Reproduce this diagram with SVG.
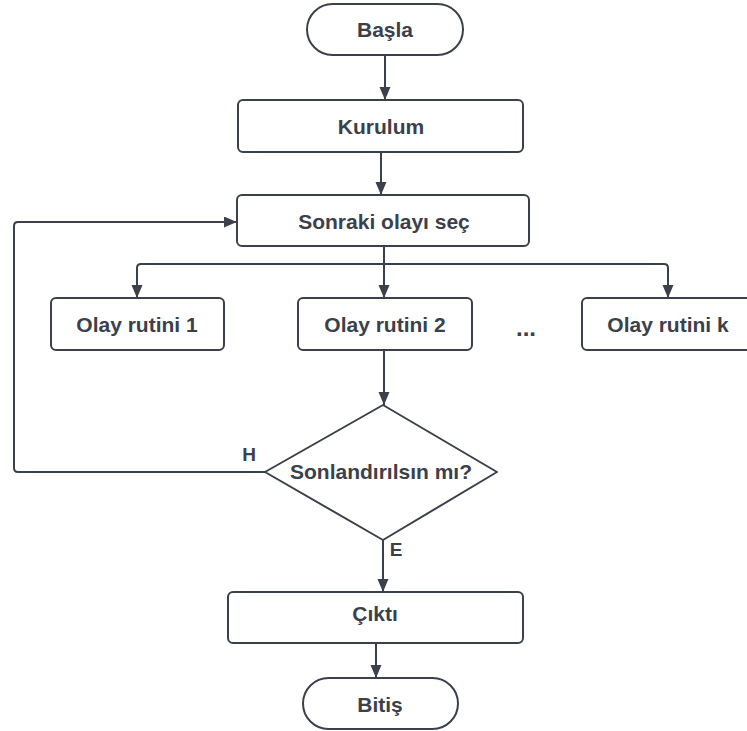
<svg xmlns="http://www.w3.org/2000/svg" width="747" height="731" viewBox="0 0 747 731">
  <defs>
    <marker id="arrow" viewBox="0 0 11 13" refX="13" refY="5.5" markerWidth="11" markerHeight="13" markerUnits="userSpaceOnUse" orient="auto">
      <path d="M0,0 L13,5.5 L0,11 Z" fill="#3a414a"/>
    </marker>
    <style>
      .box { fill: #ffffff; stroke: #3a414a; stroke-width: 2; }
      .lbl { font-family: "Liberation Sans", Arial, sans-serif; font-weight: bold; font-size: 21px; fill: #3a414a; text-anchor: middle; }
      .small { font-size: 19px; }
      .edge { fill: none; stroke: #3a414a; stroke-width: 2; }
    </style>
  </defs>
  <rect width="747" height="731" fill="#ffffff"/>

  <g id="connectors">
    <path class="edge" d="M385,55 L385,100" marker-end="url(#arrow)"/>
    <path class="edge" d="M381,152 L381,195" marker-end="url(#arrow)"/>
    <path class="edge" d="M384,246 L384,298" marker-end="url(#arrow)"/>
    <path class="edge" d="M384,264 L141,264 Q137,264 137,268 L137,298" marker-end="url(#arrow)"/>
    <path class="edge" d="M384,264 L664,264 Q668,264 668,268 L668,298" marker-end="url(#arrow)"/>
    <path class="edge" d="M384,350 L384,405" marker-end="url(#arrow)"/>
    <path class="edge" d="M265,472 L18,472 Q14,472 14,468 L14,226 Q14,222 18,222 L237,222" marker-end="url(#arrow)"/>
    <path class="edge" d="M383,540 L383,592" marker-end="url(#arrow)"/>
    <path class="edge" d="M376,643 L376,678" marker-end="url(#arrow)"/>
    <text class="lbl small" x="249" y="461">H</text>
    <text class="lbl small" x="396" y="556">E</text>
  </g>

  <g id="start">
    <rect class="box" x="307" y="4" width="156" height="51" rx="25.5"/>
    <text class="lbl" x="385" y="37">Başla</text>
  </g>
  <g id="setup">
    <rect class="box" x="238" y="100" width="285" height="52" rx="5"/>
    <text class="lbl" x="381" y="134">Kurulum</text>
  </g>
  <g id="next-event">
    <rect class="box" x="237" y="195" width="292" height="51" rx="5"/>
    <text class="lbl" x="384" y="229">Sonraki olayı seç</text>
  </g>
  <g id="routine-1">
    <rect class="box" x="51" y="298" width="173" height="52" rx="5"/>
    <text class="lbl" x="137" y="332">Olay rutini 1</text>
  </g>
  <g id="routine-2">
    <rect class="box" x="298" y="298" width="174" height="52" rx="5"/>
    <text class="lbl" x="385" y="332">Olay rutini 2</text>
  </g>
  <g id="ellipsis">
    <text class="lbl" x="526" y="336" style="font-size:24px">...</text>
  </g>
  <g id="routine-k">
    <rect class="box" x="582" y="298" width="172" height="52" rx="5"/>
    <text class="lbl" x="668" y="332">Olay rutini k</text>
  </g>
  <g id="decision">
    <path class="box" d="M383,405 L497,472 L383,540 L265,472 Z" stroke-linejoin="round"/>
    <text class="lbl" x="381" y="479">Sonlandırılsın mı?</text>
  </g>
  <g id="output">
    <rect class="box" x="228" y="592" width="295" height="51" rx="5"/>
    <text class="lbl" x="375" y="621">Çıktı</text>
  </g>
  <g id="end">
    <rect class="box" x="303" y="678" width="155" height="51" rx="25.5"/>
    <text class="lbl" x="380" y="712">Bitiş</text>
  </g>
</svg>
